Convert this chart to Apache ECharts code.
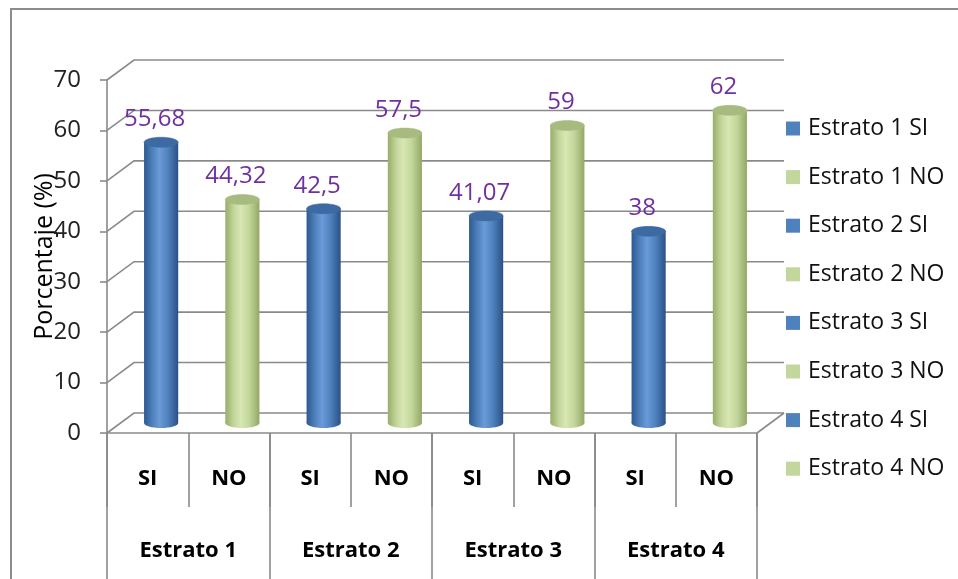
<!DOCTYPE html>
<html><head><meta charset="utf-8">
<script src="https://cdn.jsdelivr.net/npm/echarts@6/dist/echarts.min.js"></script>
<style>
html,body{margin:0;padding:0;background:#fff;overflow:hidden;width:958px;height:579px}
#frame{position:absolute;left:10px;top:8px;width:1000px;height:700px;border:2px solid #8c8c8c;box-sizing:border-box}
#c{position:absolute;left:0;top:0;width:958px;height:579px}
</style></head><body>
<div id="frame"></div><div id="c"></div>
<script>
const categories = ['SI','NO','SI','NO','SI','NO','SI','NO'];
const groups = ['Estrato 1','Estrato 2','Estrato 3','Estrato 4'];
const seriesNames = ['Estrato 1 SI','Estrato 1 NO','Estrato 2 SI','Estrato 2 NO','Estrato 3 SI','Estrato 3 NO','Estrato 4 SI','Estrato 4 NO'];
const values = [55.68, 44.32, 42.5, 57.5, 41.07, 59, 38, 62];
const yTicks = [0,10,20,30,40,50,60,70];

const DX = 27, DY = 20;
const FONT = '"Open Sans", "Liberation Sans", sans-serif';
const GRID = '#8a8a8a';
const BLUE = {body:[['#2c5990',0],['#4f81bd',0.25],['#6a9bd8',0.45],['#4f81bd',0.7],['#2a5186',1]], top:'#3d6aa3', legend:'#4f81bd'};
const GREEN = {body:[['#97ad68',0],['#c3d69b',0.25],['#d8e7b3',0.45],['#c3d69b',0.7],['#93a865',1]], top:'#a7ba80', legend:'#c3d69b'};

function grad(c){
  return {type:'linear',x:0,y:0,x2:1,y2:0,colorStops:c.body.map(s=>({offset:s[1],color:s[0]}))};
}

function frameItem(params, api){
  const v = api.value(1);
  const cs = params.coordSys;
  const y = api.coord([0, v])[1];
  const x0 = cs.x, x1 = cs.x + cs.width;
  const st = {stroke:GRID, lineWidth:1.6, fill:null};
  const ch = [{type:'polyline', shape:{points:[[x0,y],[x0+DX,y-DY],[x1+DX,y-DY]]}, style:st}];
  if (v === 0) ch.push({type:'line', shape:{x1:x1,y1:y,x2:x1+DX,y2:y-DY}, style:st});
  return {type:'group', children:ch};
}

function makeCyl(pal){
  return function(params, api){
    const idx = api.value(0), v = api.value(1);
    const base = api.coord([idx, 0]), top = api.coord([idx, v]);
    const band = api.size([1, 0])[0];
    const r = band * 0.21, ry = 5;
    const cx = base[0] + DX/2, yb = base[1] - DY/2, yt = top[1] - DY/2;
    const g = grad(pal);
    const txt = String(v).replace('.', ',');
    return {type:'group', children:[
      {type:'ellipse', shape:{cx:cx, cy:yb, rx:r, ry:ry}, style:{fill:g}},
      {type:'rect', shape:{x:cx-r, y:yt, width:2*r, height:yb-yt}, style:{fill:g}},
      {type:'ellipse', shape:{cx:cx, cy:yt, rx:r, ry:ry}, style:{fill:pal.top, stroke:pal.top, lineWidth:0.5}},
      {type:'text', x: base[0] + 7, y: yt - 11, style:{text:txt, fill:'#7030a0', font:'24px ' + FONT, align:'center', verticalAlign:'bottom', textAlign:'center', textVerticalAlign:'bottom'}}
    ]};
  };
}

const series = [{
  type:'custom', name:'frame', silent:true, z:1, clip:false,
  renderItem: frameItem,
  data: yTicks.map(t => [0, t])
}];
seriesNames.forEach((n, i) => {
  const pal = (i % 2 === 0) ? BLUE : GREEN;
  series.push({
    type:'custom', name:n, z:3, clip:false,
    itemStyle:{color:pal.legend},
    renderItem: makeCyl(pal),
    data: [[i, values[i]]]
  });
});

const chart = echarts.init(document.getElementById('c'), null, {renderer:'canvas'});
chart.setOption({
  animation:false,
  backgroundColor:'transparent',
  grid:{left:107, right:201, top:80, bottom:146, containLabel:false},
  legend:{
    data: seriesNames, orient:'vertical', left:786, top:117, padding:0,
    icon:'rect', itemWidth:14, itemHeight:14, itemGap:25.6,
    textStyle:{fontFamily:FONT, fontSize:23, color:'#111', lineHeight:23, padding:[0,0,0,3]}
  },
  xAxis:[
    {type:'category', data:categories, position:'bottom',
     axisLine:{show:true, lineStyle:{color:GRID, width:1.6}},
     axisTick:{show:true, interval:0, length:74, lineStyle:{color:GRID, width:1.6}},
     axisLabel:{interval:0, margin:35, fontFamily:FONT, fontSize:22, fontWeight:'bold', color:'#000'},
     splitLine:{show:false}},
    {type:'category', data:groups, position:'bottom', offset:0,
     axisLine:{show:false},
     axisTick:{show:true, interval:0, length:170, lineStyle:{color:GRID, width:1.6}},
     axisLabel:{interval:0, margin:107, fontFamily:FONT, fontSize:22, fontWeight:'bold', color:'#000'},
     splitLine:{show:false}}
  ],
  yAxis:{type:'value', min:0, max:70, interval:10,
    name:'Porcentaje (%)', nameLocation:'middle', nameGap:50, nameRotate:90, nameMoveOverlap:false,
    nameTextStyle:{fontFamily:FONT, fontSize:25, color:'#000'},
    axisLine:{show:true, lineStyle:{color:GRID, width:1.6}},
    axisTick:{show:true, length:7, lineStyle:{color:GRID, width:1.6}},
    axisLabel:{margin:26, fontFamily:FONT, fontSize:24, color:'#222'},
    splitLine:{show:false}},
  series: series
});
</script>
</body></html>
